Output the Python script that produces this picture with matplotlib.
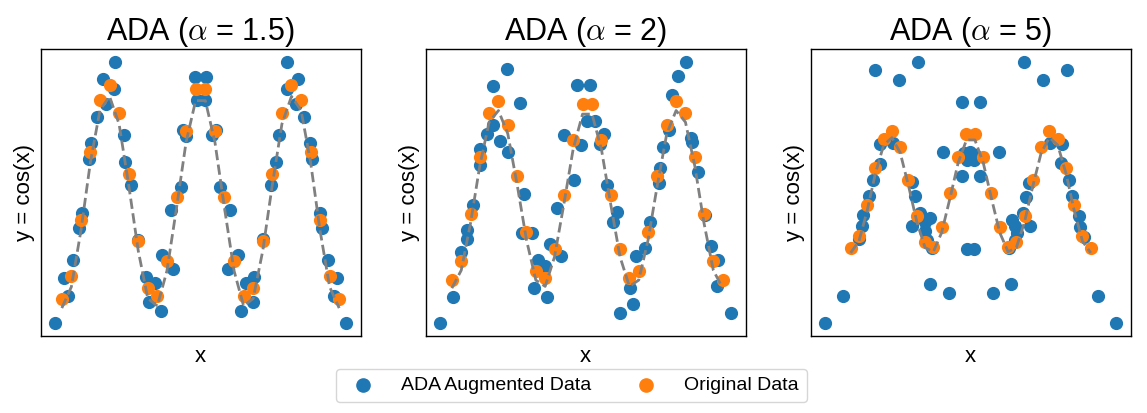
import matplotlib
matplotlib.use("Agg")
import matplotlib.pyplot as plt

plt.rcParams['font.family'] = ['Liberation Sans', 'DejaVu Sans']
plt.rcParams['mathtext.fontset'] = 'cm'

# ---- data ----
alphas = ["1.5", "2", "5"]

orig_x = [-9.42, -8.77, -8.12, -7.48, -6.83, -6.18, -5.53, -4.88, -4.23, -3.58,
          -2.93, -2.28, -1.63, -0.98, -0.33, 0.33, 0.98, 1.63, 2.28, 2.93,
          3.58, 4.23, 4.88, 5.53, 6.18, 6.83, 7.48, 8.12, 8.77, 9.42]
orig_y = [-0.91, -0.70, -0.17, 0.47, 0.96, 1.10, 0.83, 0.26, -0.37, -0.81,
          -0.89, -0.56, 0.04, 0.66, 1.06, 1.06, 0.66, 0.04, -0.56, -0.89,
          -0.81, -0.37, 0.26, 0.83, 1.10, 0.96, 0.47, -0.17, -0.70, -0.91]
curve_y = [-1.00, -0.80, -0.27, 0.37, 0.86, 0.99, 0.73, 0.16, -0.46, -0.91,
           -0.98, -0.65, -0.06, 0.56, 0.95, 0.95, 0.56, -0.06, -0.65, -0.98,
           -0.91, -0.46, 0.16, 0.73, 0.99, 0.86, 0.37, -0.27, -0.80, -1.00]

aug_x_15 = [-9.88, -9.03, -9.25, -8.64, -8.25, -8.08, -7.58, -7.44, -7.02, -6.43,
            -6.61, -5.82, -5.87, -5.21, -5.10, -4.70, -4.24, -3.68, -3.11, -3.52,
            -2.71, -2.62, -1.87, -1.99, -1.31, -1.18, -1.00, -0.39, -0.27,
            0.36, 0.29, 0.81, 1.08, 1.31, 1.98, 2.54, 1.87, 3.11, 3.63,
            2.77, 3.56, 4.24, 4.76, 5.14, 5.30, 5.89, 5.89, 6.65, 6.50,
            7.06, 7.46, 7.55, 8.14, 8.23, 8.63, 9.27, 9.04, 9.88]
aug_y_15 = [-1.14, -0.89, -0.72, -0.55, -0.25, -0.11, 0.40, 0.55, 0.80, 0.92,
            1.15, 1.31, 1.06, 0.63, 0.37, 0.16, -0.36, -0.71, -0.76, -0.94,
            -1.03, -0.50, -0.63, -0.08, 0.14, 0.67, 0.62, 1.17, 0.96,
            1.17, 0.96, 0.63, 0.67, 0.14, -0.08, -0.50, -0.63, -0.76, -0.71,
            -1.03, -0.94, -0.35, 0.16, 0.37, 0.63, 1.06, 1.31, 1.15, 0.92,
            0.80, 0.55, 0.40, -0.11, -0.25, -0.55, -0.72, -0.89, -1.14]

aug_x_2 = [-10.23, -9.31, -8.80, -8.39, -8.39, -7.92, -7.46, -7.46, -7.00, -6.53,
           -6.53, -5.61, -6.07, -5.50, -4.68, -4.39, -4.57, -3.88, -3.42, -2.95,
           -3.69, -2.79, -2.56, -1.80, -2.08, -0.94, -1.61, -0.44, -0.73, -0.04,
           0.19, 0.53, 1.18, 0.88, 1.34, 2.08, 1.80, 3.42, 2.96, 2.27,
           3.19, 4.00, 4.35, 4.99, 5.04, 5.27, 5.68, 5.92, 6.31, 6.89,
           7.24, 7.30, 7.69, 8.16, 8.62, 9.08, 9.01, 10.01]
aug_y_2 = [-1.39, -1.10, -0.59, -0.45, -0.35, -0.07, 0.38, 0.56, 0.73, 0.83,
           1.26, 1.45, 0.65, 0.52, 1.07, 0.06, -0.38, -0.38, -0.69, -0.75,
           -1.00, -1.10, -0.51, -0.64, -0.10, 0.21, 0.72, 0.60, 1.28, 0.87,
           1.28, 0.87, 0.73, 0.61, 0.16, -0.15, -0.26, -0.64, -1.00, -1.28,
           -1.18, -0.55, -0.26, 0.18, 0.35, 0.58, 0.77, 1.16, 1.38, 1.53,
           0.68, 0.64, 0.30, -0.18, -0.53, -0.68, -0.98, -1.28]

aug_x_5 = [-11.41, -9.98, -7.50, -5.62, -4.16, -0.71, -2.14, -3.19, -1.70, -0.29, -0.68,
           -0.55, -0.03, 0.36, -0.29, 0.23,
           -7.10, -7.10, -7.63, -7.94, -8.42, -8.55, -8.80, -6.06,
           -4.57, -4.36, -3.97, -4.63, -3.58, -3.19, -3.58, -3.45, -3.01,
           11.41, 9.98, 7.55, 5.64, 4.15, 0.76, 2.19, 3.19, 1.72, 0.23, 0.76,
           6.24, 7.16, 7.10, 7.68, 7.94, 8.46, 8.59, 8.85,
           4.34, 4.60, 4.07, 4.67, 3.50, 3.24, 3.63, 3.50, 3.03]
aug_y_5 = [-2.21, -1.75, 2.16, 1.98, 2.29, 1.61, 0.74, -1.53, -1.69, -0.94, 0.32,
           0.72, 0.75, 0.69, 0.61, 0.61,
           0.88, 0.54, 0.26, -0.01, -0.34, -0.54, -0.76, 0.90,
           0.22, -0.02, -0.31, -0.53, -0.46, -0.40, -0.63, -0.77, -0.91,
           -2.21, -1.75, 2.16, 1.98, 2.29, 1.61, 0.74, -1.53, -1.69, -0.94, 0.32,
           0.90, 0.88, 0.55, 0.26, -0.02, -0.36, -0.55, -0.72,
           -0.03, 0.21, -0.31, -0.54, -0.54, -0.43, -0.66, -0.77, -0.91]

aug_sets = [(aug_x_15, aug_y_15), (aug_x_2, aug_y_2), (aug_x_5, aug_y_5)]

# ---- figure ----
W, H = 1147, 413
fig = plt.figure(figsize=(W / 100, H / 100), dpi=100)
lefts_px = [40.5, 425.7, 810.7]
ax_w, ax_top, ax_bot = 320, 49.3, 336

handles = None
for i, (lp, (ax_, ay_)) in enumerate(zip(lefts_px, aug_sets)):
    ax = fig.add_axes([lp / W, (H - ax_bot) / H, ax_w / W, (ax_bot - ax_top) / H])
    h1 = ax.scatter(ax_, ay_, s=72, color='#1f77b4', label='ADA Augmented Data', zorder=2)
    h2 = ax.scatter(orig_x, orig_y, s=72, color='#ff7f0e', label='Original Data', zorder=3)
    ax.plot(orig_x, curve_y, linestyle='--', color='gray', lw=2, zorder=4)
    ax.set_xticks([])
    ax.set_yticks([])
    ax.set_title(r"ADA ($\alpha$ = " + alphas[i] + ")", fontsize=22)
    ax.set_xlabel("x", fontsize=16, labelpad=7)
    ax.set_ylabel("y = cos(x)", fontsize=16, labelpad=4)
    for sp in ax.spines.values():
        sp.set_linewidth(1.0)
    handles = [h1, h2]

fig.legend(handles, ['ADA Augmented Data', 'Original Data'], loc='lower center',
           bbox_to_anchor=(0.498, 0.027), borderaxespad=0, ncol=2, fontsize=14,
           markerscale=1.12, handletextpad=0.95, columnspacing=1.85)

fig.savefig("out.png", dpi=100)
